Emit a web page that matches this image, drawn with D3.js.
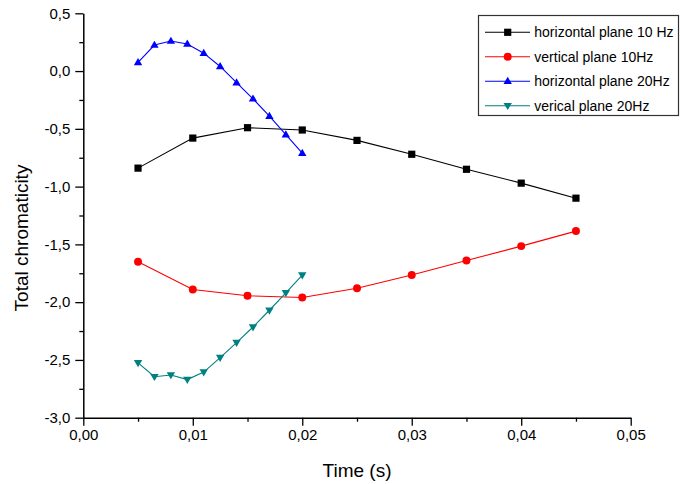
<!DOCTYPE html>
<html>
<head>
<meta charset="utf-8">
<script src="https://cdn.jsdelivr.net/npm/d3@7"></script>
<style>
  html, body { margin: 0; padding: 0; background: #fff; }
  svg { display: block; font-family: "Liberation Sans", Arial, sans-serif; }
</style>
</head>
<body>
<svg id="chart" width="680" height="484"></svg>
<script>
// Sample times (s)
const time10 = [0.005, 0.010, 0.015, 0.020, 0.025, 0.030, 0.035, 0.040, 0.045];
const time20 = [0.005, 0.0065, 0.008, 0.0095, 0.011, 0.0125, 0.014, 0.0155, 0.017, 0.0185, 0.020];

// Total chromaticity per measurement series
const horizontal10 = [-0.84, -0.58, -0.49, -0.51, -0.60, -0.72, -0.85, -0.97, -1.10];
const vertical10   = [-1.65, -1.89, -1.945, -1.96, -1.88, -1.765, -1.64, -1.515, -1.385];
const horizontal20 = [0.075, 0.225, 0.26, 0.235, 0.155, 0.04, -0.10, -0.24, -0.39, -0.55, -0.71];
const vertical20   = [-2.525, -2.645, -2.63, -2.67, -2.605, -2.48, -2.35, -2.215, -2.07, -1.92, -1.765];

const seriesNames = ["horizontal plane 10 Hz", "vertical plane 10Hz", "horizontal plane 20Hz", "verical plane 20Hz"];

// Axis ticks
const xTicks = [0, 0.01, 0.02, 0.03, 0.04, 0.05];
const xMinorTicks = [0.005, 0.015, 0.025, 0.035, 0.045];
const yTicks = [-3.0, -2.5, -2.0, -1.5, -1.0, -0.5, 0.0, 0.5];
const yMinorTicks = [-2.75, -2.25, -1.75, -1.25, -0.75, -0.25, 0.25];

const xTitle = "Time (s)";
const yTitle = "Total chromaticity";

const series = [
  { name: seriesNames[0], xs: time10, ys: horizontal10, color: "#000000", marker: "square" },
  { name: seriesNames[1], xs: time10, ys: vertical10,   color: "#ff0000", marker: "circle" },
  { name: seriesNames[2], xs: time20, ys: horizontal20, color: "#0000ff", marker: "up" },
  { name: seriesNames[3], xs: time20, ys: vertical20,   color: "#008080", marker: "down" }
];

const svg = d3.select("#chart");

const x = d3.scaleLinear().domain([0, 0.05]).range([83.3, 630.7]);
const y = d3.scaleLinear().domain([-3, 0.5]).range([417.7, 13.3]);

// Decimal comma with a plain hyphen for negatives
const locale = d3.formatLocale({ decimal: ",", thousands: ".", grouping: [3], currency: ["", ""], minus: "-" });
const fx = locale.format(".2f");
const fy = locale.format(".1f");

// Marker shapes
function markerPath(kind) {
  switch (kind) {
    case "square": return "M-3.6,-3.6H3.6V3.6H-3.6Z";
    case "circle": return d3.symbol(d3.symbolCircle, 50)();
    case "up":     return "M0,-4.4L4.2,2.8L-4.2,2.8Z";
    case "down":   return "M0,4.4L4.2,-2.8L-4.2,-2.8Z";
  }
}

// Minor ticks
svg.append("g")
  .attr("transform", `translate(0,${y(-3)})`)
  .call(d3.axisBottom(x).tickValues(xMinorTicks).tickSize(4).tickFormat(""))
  .call(g => g.select(".domain").remove())
  .call(g => g.selectAll("line").attr("stroke-width", 1.3));
svg.append("g")
  .attr("transform", `translate(${x(0)},0)`)
  .call(d3.axisLeft(y).tickValues(yMinorTicks).tickSize(4).tickFormat(""))
  .call(g => g.select(".domain").remove())
  .call(g => g.selectAll("line").attr("stroke-width", 1.3));

// Major axes
const gx = svg.append("g")
  .attr("transform", `translate(0,${y(-3)})`)
  .call(d3.axisBottom(x).tickValues(xTicks).tickSize(8).tickSizeOuter(0).tickPadding(4).tickFormat(fx));
gx.select(".domain").attr("stroke-width", 1.5);
gx.selectAll("line").attr("stroke-width", 1.3);
gx.selectAll("text").attr("font-size", 15).attr("font-family", "Liberation Sans, Arial, sans-serif").attr("fill", "#000");

const gy = svg.append("g")
  .attr("transform", `translate(${x(0)},0)`)
  .call(d3.axisLeft(y).tickValues(yTicks).tickSize(8).tickSizeOuter(0).tickPadding(5).tickFormat(fy));
gy.select(".domain").attr("stroke-width", 1.5);
gy.selectAll("line").attr("stroke-width", 1.3);
gy.selectAll("text").attr("font-size", 15).attr("font-family", "Liberation Sans, Arial, sans-serif").attr("fill", "#000");

// Axis titles
svg.append("text")
  .attr("x", (x(0) + x(0.05)) / 2)
  .attr("y", 477)
  .attr("text-anchor", "middle")
  .attr("font-size", 19)
  .text(xTitle);
svg.append("text")
  .attr("transform", "translate(28,238) rotate(-90)")
  .attr("text-anchor", "middle")
  .attr("font-size", 19)
  .text(yTitle);

// Lines and markers
const line = d3.line().x(d => x(d[0])).y(d => y(d[1]));
series.forEach(s => {
  const pts = s.xs.map((t, i) => [t, s.ys[i]]);
  svg.append("path")
    .attr("d", line(pts))
    .attr("fill", "none")
    .attr("stroke", s.color)
    .attr("stroke-width", 1.1);
  svg.append("g").selectAll("path")
    .data(pts)
    .join("path")
    .attr("d", markerPath(s.marker))
    .attr("transform", d => `translate(${x(d[0])},${y(d[1])})`)
    .attr("fill", s.color);
});

// Legend
const legend = svg.append("g");
legend.append("rect")
  .attr("x", 478.5).attr("y", 15.5)
  .attr("width", 200).attr("height", 100)
  .attr("fill", "#fff")
  .attr("stroke", "#333")
  .attr("stroke-width", 1.2);
const rowY = d3.scaleLinear().domain([0, 3]).range([32.3, 105.7]);
series.forEach((s, i) => {
  const yy = rowY(i);
  legend.append("line")
    .attr("x1", 485).attr("x2", 530)
    .attr("y1", yy).attr("y2", yy)
    .attr("stroke", s.color)
    .attr("stroke-width", 1.1);
  legend.append("path")
    .attr("d", markerPath(s.marker))
    .attr("transform", `translate(507.7,${yy})`)
    .attr("fill", s.color);
  legend.append("text")
    .attr("x", 534.3).attr("y", yy)
    .attr("dy", "0.35em")
    .attr("font-size", 14)
    .text(s.name);
});
</script>
</body>
</html>
